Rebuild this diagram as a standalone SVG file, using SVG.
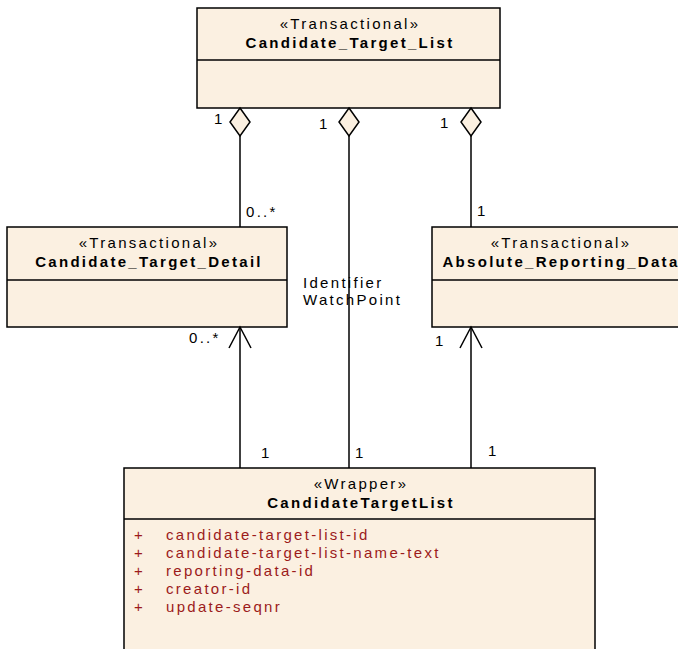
<svg xmlns="http://www.w3.org/2000/svg" width="678" height="649" viewBox="0 0 678 649">
<style>
text{font-family:"Liberation Sans",Arial,sans-serif;font-size:15px;letter-spacing:2.3px;fill:#000}
.b{font-weight:bold}
.c{text-anchor:middle}
.a{fill:#9c1b1b}
.box{fill:#fbf0e1;stroke:#000;stroke-width:1.5}
.ln{stroke:#000;stroke-width:1.5;fill:none}
</style>
<rect width="678" height="649" fill="#fff"/>
<g id="Candidate_Target_List">
<rect class="box" x="197" y="8" width="303" height="100"/>
<line class="ln" x1="197" y1="60" x2="500" y2="60"/>
<text class="c" x="350" y="29">«Transactional»</text>
<text class="b c" x="350" y="48">Candidate_Target_List</text>
</g>
<g id="Candidate_Target_Detail">
<rect class="box" x="7" y="227" width="280" height="100"/>
<line class="ln" x1="7" y1="280" x2="287" y2="280"/>
<text class="c" x="149" y="248">«Transactional»</text>
<text class="b c" x="149" y="267">Candidate_Target_Detail</text>
</g>
<g id="Absolute_Reporting_Data">
<rect class="box" x="432" y="227" width="258" height="100"/>
<line class="ln" x1="432" y1="280" x2="690" y2="280"/>
<text class="c" x="561" y="248">«Transactional»</text>
<text class="b c" x="561" y="267">Absolute_Reporting_Data</text>
</g>
<g id="CandidateTargetList">
<rect class="box" x="124" y="468" width="471" height="200"/>
<line class="ln" x1="124" y1="519" x2="595" y2="519"/>
<text class="c" x="361" y="489">«Wrapper»</text>
<text class="b c" x="361" y="508">CandidateTargetList</text>
<text class="a" x="134" y="540">+</text>
<text class="a" x="166" y="540">candidate-target-list-id</text>
<text class="a" x="134" y="558">+</text>
<text class="a" x="166" y="558">candidate-target-list-name-text</text>
<text class="a" x="134" y="576">+</text>
<text class="a" x="166" y="576">reporting-data-id</text>
<text class="a" x="134" y="594">+</text>
<text class="a" x="166" y="594">creator-id</text>
<text class="a" x="134" y="612">+</text>
<text class="a" x="166" y="612">update-seqnr</text>
</g>
<g id="connectors">
<line class="ln" x1="240" y1="136" x2="240" y2="227"/>
<polygon class="box" points="240,108 250,122 240,136 230,122"/>
<line class="ln" x1="240" y1="327" x2="240" y2="468"/>
<polyline class="ln" points="229,348 240,327 251,348"/>
<line class="ln" x1="349" y1="136" x2="349" y2="468"/>
<polygon class="box" points="349,108 359,122 349,136 339,122"/>
<line class="ln" x1="471" y1="136" x2="471" y2="227"/>
<polygon class="box" points="471,108 481,122 471,136 461,122"/>
<line class="ln" x1="471" y1="327" x2="471" y2="468"/>
<polyline class="ln" points="460,348 471,327 482,348"/>
<text x="214" y="124">1</text>
<text x="319" y="129">1</text>
<text x="440" y="128">1</text>
<text x="246" y="217">0..*</text>
<text x="477" y="216">1</text>
<text x="189" y="343">0..*</text>
<text x="435" y="346">1</text>
<text x="303" y="288">Identifier</text>
<text x="303" y="305">WatchPoint</text>
<text x="261" y="458">1</text>
<text x="355" y="458">1</text>
<text x="488" y="456">1</text>
</g>
</svg>
